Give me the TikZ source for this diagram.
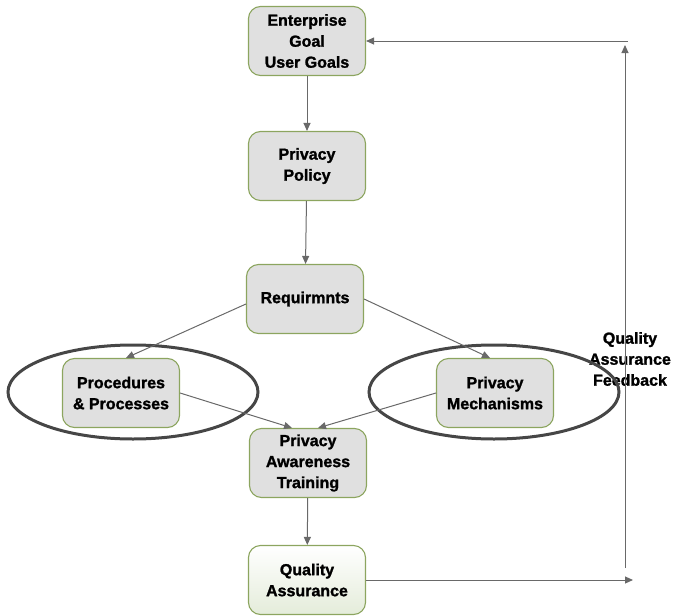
\documentclass[tikz,border=0pt]{standalone}
\usepackage{fontspec}
\setmainfont{Liberation Sans}[BoldFeatures={FakeBold=1.4}]
\usetikzlibrary{arrows.meta,shapes}
\definecolor{boxline}{RGB}{140,165,95}
\definecolor{boxfill}{RGB}{224,224,224}
\definecolor{qafill}{RGB}{228,236,218}
\definecolor{linegray}{RGB}{105,105,105}
\definecolor{ringgray}{RGB}{70,70,70}
\tikzset{
    stepbox/.style={draw=boxline, fill=boxfill, rounded corners=12pt, line width=1.1pt,
        minimum width=117pt, minimum height=69pt, align=center,
        font=\bfseries\fontsize{16}{21}\selectfont},
    qabox/.style={stepbox, top color=white, bottom color=qafill},
    flow/.style={draw=linegray, line width=1pt, -{Triangle[length=8pt,width=7pt]}},
    ring/.style={draw=ringgray, line width=3pt},
}

\begin{document}
\begin{tikzpicture}[x=1pt, y=-1pt]
	\useasboundingbox (0,0) rectangle (673,616);
	\node[stepbox] (goal) at (307,41) {Enterprise\\Goal\\User Goals};
	\node[stepbox] (policy) at (307,166) {Privacy\\Policy};
	\node[stepbox] (req) at (305,299) {Requirmnts};
	\node[stepbox] (proc) at (121,393) {Procedures\\\& Processes};
	\node[stepbox] (mech) at (495,393) {Privacy\\Mechanisms};
	\node[stepbox] (train) at (308,463) {Privacy\\Awareness\\Training};
	\node[qabox] (qa) at (307,580) {Quality\\Assurance};
	\node[font=\bfseries\fontsize{16}{21}\selectfont, align=center] (fblabel) at (630,359) {Quality\\Assurance\\Feedback};
%
	\draw[ring] (133,392) ellipse [x radius=125pt, y radius=47pt];
	\draw[ring] (494,392) ellipse [x radius=125pt, y radius=47pt];
%
	\draw[flow] (goal) -- (policy);
	\draw[flow] (policy) -- (req);
	\draw[flow] ([yshift=-5pt]req.west) -- ([xshift=5pt]proc.north);
	\draw[flow] (req.east) -- ([xshift=-5pt]mech.north);
	\draw[flow] (proc.east) -- ([xshift=-16pt]train.north);
	\draw[flow] (mech.west) -- ([xshift=10pt]train.north);
	\draw[flow] (train) -- (qa);
%
	\coordinate (fbend) at (633,580);
	\coordinate (fbot) at (625,568);
	\coordinate (ftop) at (625,45);
	\coordinate (fin) at (628,41);
	\draw[flow] (qa.east) -- (fbend);
	\draw[flow] (fbot) -- (ftop);
	\draw[flow] (fin) -- (goal.east);
\end{tikzpicture}
\end{document}
